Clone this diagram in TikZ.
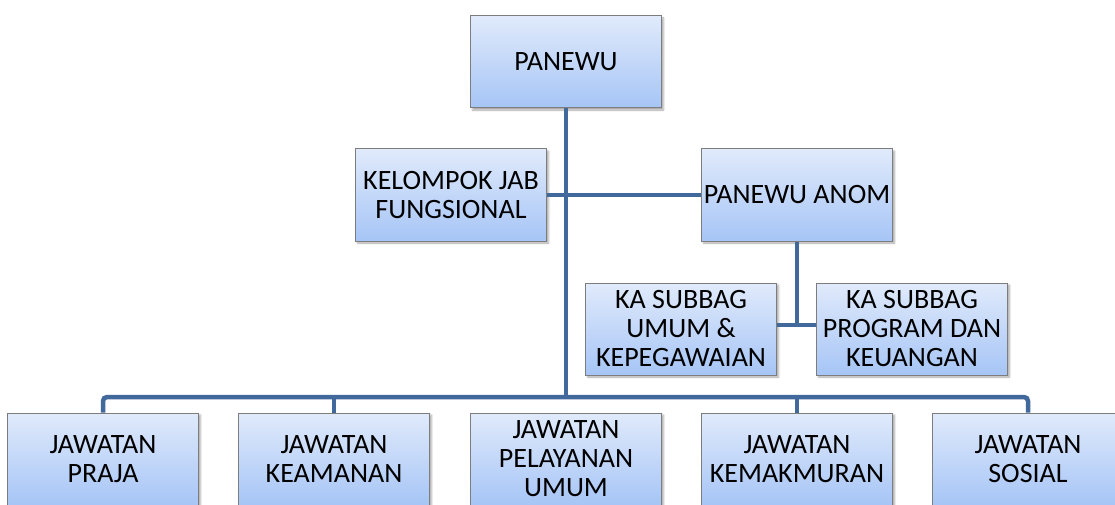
\documentclass[tikz,border=0pt]{standalone}
\usepackage{fontspec}
\setmainfont{Carlito}
\usepackage{xcolor}
\usepackage{tikz}
\usetikzlibrary{positioning, shadows.blur, calc}
\definecolor{boxtop}{RGB}{224, 234, 251}
\definecolor{boxbot}{RGB}{166, 197, 246}
\definecolor{boxline}{RGB}{125, 125, 125}
\definecolor{linkblue}{RGB}{65, 105, 155}

\begin{document}
\begin{tikzpicture}[
          x=1pt, y=-1pt,
          unit/.style={rectangle, draw=boxline, line width=1pt, top color=boxtop, bottom color=boxbot, minimum width=191pt, minimum height=92pt, inner sep=2pt, align=center, font=\fontsize{28}{29}\selectfont, blur shadow={shadow xshift=2pt, shadow yshift=-2pt, shadow blur steps=4, shadow opacity=35}},
          link/.style={draw=linkblue, line width=4.5pt}
        ]
          \useasboundingbox (0,0) rectangle (1115,505);

          % Top levels
          \node[unit] (panewu) at (566, 62) {PANEWU};
          \node[unit] (kelompok) at (451, 195) {KELOMPOK JAB\\FUNGSIONAL};
          \node[unit] (anom) at (797, 195) {PANEWU ANOM};

          % Sub bagian
          \node[unit] (umum) at (681, 329) {KA SUBBAG\\UMUM \&\\KEPEGAWAIAN};
          \node[unit] (program) at (912, 329) {KA SUBBAG\\PROGRAM DAN\\KEUANGAN};

          % Jawatan
          \node[unit] (praja) at (103, 459) {JAWATAN\\PRAJA};
          \node[unit] (keamanan) at (334, 459) {JAWATAN\\KEAMANAN};
          \node[unit] (pelayanan) at (566, 459) {JAWATAN\\PELAYANAN\\UMUM};
          \node[unit] (kemakmuran) at (797, 459) {JAWATAN\\KEMAKMURAN};
          \node[unit] (sosial) at (1028, 459) {JAWATAN\\SOSIAL};

          % Connectors
          \coordinate (bus) at (566, 397);
          \coordinate (sub) at (797, 325);
          \draw[link] (panewu.south) -- (bus);
          \draw[link] (kelompok.east) -- (anom.west);
          \draw[link] (anom.south) -- (sub);
          \draw[link] (umum.east |- sub) -- (program.west |- sub);
          \draw[link, rounded corners=4pt] (praja.north) |- (bus) -| (sosial.north);
          \draw[link] (keamanan.north) -- (keamanan.north |- bus);
          \draw[link] (kemakmuran.north) -- (kemakmuran.north |- bus);
        \end{tikzpicture}
\end{document}
